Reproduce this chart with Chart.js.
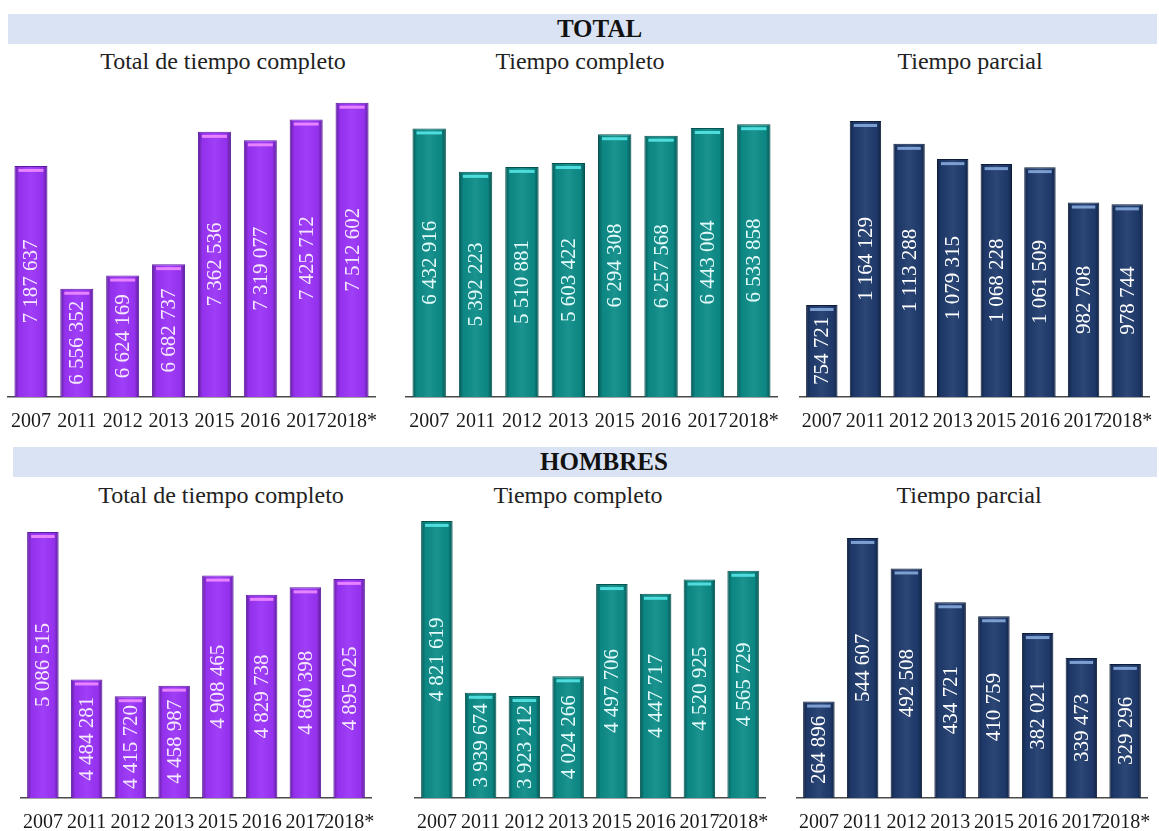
<!DOCTYPE html>
<html>
<head>
<meta charset="utf-8">
<script src="https://cdn.jsdelivr.net/npm/chart.js@4.4.1/dist/chart.umd.min.js"></script>
<style>
  body { margin: 0; background: #fff; width: 1159px; height: 831px; overflow: hidden; position: relative; font-family: "Liberation Serif", serif; }
  .band { position: absolute; background: #dae3f3; color: #111; font-weight: bold; font-size: 25px; line-height: 30px; text-align: center; }
  .title { position: absolute; width: 360px; margin-left: -180px; text-align: center; font-size: 24px; color: #222; line-height: 26px; }
  canvas { position: absolute; }
</style>
</head>
<body>
<div class="band" style="left:8px; top:14px; width:1149px; height:30px;"><span style="position:relative; left:17px;">TOTAL</span></div>
<div class="band" style="left:13px; top:447px; width:1144px; height:30px;"><span style="position:relative; left:19px;">HOMBRES</span></div>

<script>
const years = ['2007', '2011', '2012', '2013', '2015', '2016', '2017', '2018*'];

// TOTAL
const totalTiempoCompletoTotal = [7187637, 6556352, 6624169, 6682737, 7362536, 7319077, 7425712, 7512602];
const totalTiempoCompleto = [6432916, 5392223, 5510881, 5603422, 6294308, 6257568, 6443004, 6533858];
const totalTiempoParcial = [754721, 1164129, 1113288, 1079315, 1068228, 1061509, 982708, 978744];

// HOMBRES
const hombresTiempoCompletoTotal = [5086515, 4484281, 4415720, 4458987, 4908465, 4829738, 4860398, 4895025];
const hombresTiempoCompleto = [4821619, 3939674, 3923212, 4024266, 4497706, 4447717, 4520925, 4565729];
const hombresTiempoParcial = [264896, 544607, 492508, 434721, 410759, 382021, 339473, 329296];

const PURPLE = { fill: '#9a33f7', border: '#5c1a9e', hi: '#f08cff', text: '#f6e9ff' };
const TEAL = { fill: '#0d8c88', border: '#05514f', hi: '#55e6e6', text: '#e4fbfb' };
const NAVY = { fill: '#1f3b6d', border: '#0d1c3a', hi: '#86a8dc', text: '#ffffff' };

const PAD = 16;
const AXIS_H = 40;

const panels = [
    { title: 'Total de tiempo completo', titleX: 223, titleY: 48, data: totalTiempoCompletoTotal, c: PURPLE, min: 6000000, max: 7552000, left: 7.6, right: 375, top: 95, base: 397 },
    { title: 'Tiempo completo', titleX: 580, titleY: 48, data: totalTiempoCompleto, c: TEAL, min: 0, max: 7233000, left: 406.3, right: 777.6, top: 95, base: 397 },
    { title: 'Tiempo parcial', titleX: 970, titleY: 48, data: totalTiempoParcial, c: NAVY, min: 550000, max: 1222000, left: 799.6, right: 1149, top: 95, base: 397 },
    { title: 'Total de tiempo completo', titleX: 221, titleY: 482, data: hombresTiempoCompletoTotal, c: PURPLE, min: 4000000, max: 5156000, left: 20.6, right: 370.3, top: 515, base: 798 },
    { title: 'Tiempo completo', titleX: 578, titleY: 482, data: hombresTiempoCompleto, c: TEAL, min: 3400000, max: 4852000, left: 414.6, right: 764.3, top: 515, base: 798 },
    { title: 'Tiempo parcial', titleX: 969, titleY: 482, data: hombresTiempoParcial, c: NAVY, min: 100000, max: 583900, left: 797, right: 1147, top: 515, base: 798 },
];

function fmt(v) {
    return String(v).replace(/\B(?=(\d{3})+(?!\d))/g, ' ');
}

// 3d look of the bars + vertical value labels
const bevel = {
    id: 'bevel',
    afterDatasetsDraw(chart, args, opts) {
        const ctx = chart.ctx;
        const area = chart.chartArea;
        const meta = chart.getDatasetMeta(0);
        const values = chart.data.datasets[0].data;
        meta.data.forEach((bar, i) => {
            const props = bar.getProps(['x', 'y', 'base', 'width'], true);
            const x = props.x, width = props.width;
            const y = Math.max(props.y, area.top);
            const base = Math.min(props.base, area.bottom);
            const l = x - width / 2;
            const h = base - y;
            ctx.save();
            const g = ctx.createLinearGradient(l, 0, l + width, 0);
            g.addColorStop(0, 'rgba(0,0,0,0.38)');
            g.addColorStop(0.14, 'rgba(0,0,0,0.04)');
            g.addColorStop(0.5, 'rgba(255,255,255,0.06)');
            g.addColorStop(0.86, 'rgba(0,0,0,0.04)');
            g.addColorStop(1, 'rgba(0,0,0,0.42)');
            ctx.fillStyle = g;
            ctx.fillRect(l + 1, y + 1, width - 2, h - 1);

            ctx.fillStyle = opts.hi;
            ctx.globalAlpha = 0.9;
            ctx.fillRect(l + 4, y + 3, width - 8, 3);
            ctx.globalAlpha = 1;

            ctx.translate(x, y + h / 2);
            ctx.rotate(-Math.PI / 2);
            ctx.fillStyle = opts.text;
            ctx.font = '21px "Liberation Serif"';
            ctx.textAlign = 'center';
            ctx.textBaseline = 'middle';
            ctx.fillText(fmt(values[i]), 0, 1);
            ctx.restore();
        });
    }
};

panels.forEach(p => {
    const t = document.createElement('div');
    t.className = 'title';
    t.style.left = p.titleX + 'px';
    t.style.top = p.titleY + 'px';
    t.textContent = p.title;
    document.body.appendChild(t);

    const cv = document.createElement('canvas');
    const w = Math.round(p.right - p.left) + PAD * 2;
    const h = (p.base - p.top) + AXIS_H;
    cv.width = w;
    cv.height = h;
    cv.style.left = (p.left - PAD) + 'px';
    cv.style.top = p.top + 'px';
    document.body.appendChild(cv);

    new Chart(cv.getContext('2d'), {
        type: 'bar',
        data: {
            labels: years,
            datasets: [{
                data: p.data,
                backgroundColor: p.c.fill,
                borderColor: p.c.border,
                borderWidth: 1,
                categoryPercentage: 1,
                barPercentage: 0.72,
            }],
        },
        options: {
            responsive: false,
            animation: false,
            devicePixelRatio: 1,
            layout: { padding: { left: PAD, right: PAD, top: 0, bottom: 0 } },
            plugins: {
                legend: { display: false },
                tooltip: { enabled: false },
                bevel: { hi: p.c.hi, text: p.c.text },
            },
            scales: {
                x: {
                    grid: { display: false },
                    border: { display: true, color: '#4a4a4a', width: 1.5 },
                    ticks: {
                        autoSkip: false,
                        maxRotation: 0,
                        minRotation: 0,
                        padding: 5,
                        color: '#1a1a1a',
                        font: { family: 'Liberation Serif', size: 20 },
                    },
                    afterFit: s => { s.height = AXIS_H; },
                },
                y: { display: false, min: p.min, max: p.max },
            },
        },
        plugins: [bevel],
    });
});
</script>
</body>
</html>
